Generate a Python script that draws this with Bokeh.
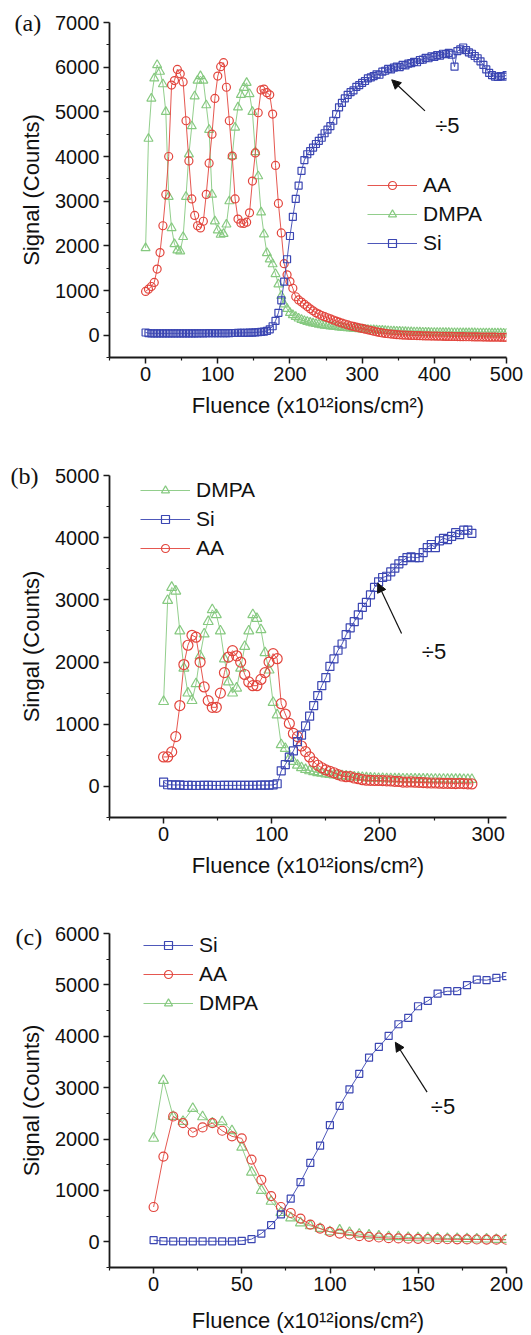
from bokeh.plotting import figure
from bokeh.layouts import column
from bokeh.models import FixedTicker, Label, Arrow, NormalHead, Legend, LegendItem, Title
from bokeh.embed import file_html
from bokeh.resources import INLINE

RED = "#e2453d"
GREEN = "#86c980"
BLUE = "#3b46b2"
FONT = "Liberation Sans"
XLABEL = "Fluence (x10\u00b9\u00b2ions/cm\u00b2)"

# ---------------- panel (a) data ----------------
x_a = [0, 4, 8, 12, 16, 20, 24, 28, 32, 36, 40, 44, 48, 52, 56, 60, 64, 68, 72, 76,
       80, 84, 88, 92, 96, 100, 104, 108, 112, 116, 120, 124, 128, 132, 136, 140, 144, 148, 152, 156,
       160, 164, 168, 172, 176, 180, 184, 188, 192, 196, 200, 204, 208, 212, 216, 220, 224, 228, 232, 236,
       240, 244, 248, 252, 256, 260, 264, 268, 272, 276, 280, 284, 288, 292, 296, 300, 304, 308, 312, 316,
       320, 324, 328, 332, 336, 340, 344, 348, 352, 356, 360, 364, 368, 372, 376, 380, 384, 388, 392, 396,
       400, 404, 408, 412, 416, 420, 424, 428, 432, 436, 440, 444, 448, 452, 456, 460, 464, 468, 472, 476,
       480, 484, 488, 492, 496, 500]
aa_a = [980, 1030, 1090, 1180, 1480, 1850, 2450, 3150, 4000, 5600,
        5700, 5950, 5850, 5670, 4800, 3900, 3050, 2680, 2450, 2400,
        2550, 3150, 3850, 4500, 5300, 5800, 6010, 6100, 5550, 4800,
        4010, 3050, 2600, 2510, 2500, 2530, 2740, 3450, 4080, 4980,
        5490, 5510, 5430, 5380, 4950, 3800, 2950, 2290, 1600, 1350,
        1200, 1050, 860, 790, 740, 690, 640, 590, 545, 500,
        470, 440, 415, 390, 365, 340, 315, 290, 270, 250,
        230, 210, 195, 180, 165, 150, 135, 120, 105, 90,
        75, 62, 50, 40, 32, 25, 18, 12, 8, 3,
        0, -3, -6, -8, -10, -12, -14, -16, -18, -20,
        -21, -23, -24, -25, -27, -28, -29, -30, -32, -33,
        -34, -35, -36, -38, -39, -40, -41, -42, -43, -44,
        -45, -46, -47, -48, -49, -50]
dmpa_a = [1950, 4400, 5300, 5750, 6050, 5900, 5620, 5000, 3100, 2400,
          2040, 1900, 1880, 2200, 3100, 4050, 4680, 5350, 5700, 5800,
          5700, 5150, 4600, 3150, 2550, 2350, 2250, 2270, 2480, 3000,
          4010, 4650, 5100, 5380, 5540, 5650, 5400, 5000, 4100, 3560,
          2750, 2260, 1840, 1700, 1590, 1370, 1140, 880, 690, 590,
          500, 450, 410, 375, 345, 320, 300, 282, 266, 252,
          240, 228, 218, 208, 200, 192, 185, 177, 170, 163,
          157, 151, 146, 141, 136, 131, 127, 122, 118, 114,
          110, 106, 102, 98, 94, 90, 87, 84, 81, 78,
          75, 73, 70, 68, 66, 64, 62, 60, 58, 56,
          55, 54, 54, 53, 52, 52, 51, 50, 50, 49,
          48, 48, 47, 47, 46, 45, 45, 44, 44, 43,
          42, 42, 41, 41, 40, 40]
si_a = [60, 45, 40, 42, 40, 41, 40, 39, 40, 41,
        40, 40, 41, 42, 41, 40, 41, 42, 42, 43,
        42, 43, 44, 44, 45, 44, 45, 46, 46, 47,
        48, 48, 50, 51, 52, 54, 56, 58, 62, 66,
        72, 80, 95, 130, 200, 320, 500, 780, 1200, 1700,
        2220, 2650, 3050, 3350, 3680, 3920, 4050, 4120, 4200, 4280,
        4350, 4420, 4520, 4600, 4680, 4800, 4950, 5100, 5200, 5300,
        5380, 5440, 5480, 5560, 5600, 5650, 5690, 5750, 5770, 5800,
        5840, 5830, 5900, 5920, 5960, 5950, 5990, 6010, 6000, 6050,
        6040, 6080, 6090, 6120, 6110, 6160, 6170, 6210, 6200, 6240,
        6230, 6270, 6260, 6300, 6290, 6320, 6280, 6010, 6360, 6400,
        6440, 6380, 6330, 6300, 6250, 6200, 6130, 6050, 5950, 5870,
        5820, 5790, 5780, 5800, 5790, 5820]

# ---------------- panel (b) data ----------------
x_b = [0, 3.75, 7.5, 11.25, 15, 18.75, 22.5, 26.25, 30, 33.75, 37.5, 41.25, 45, 48.75, 52.5, 56.25,
       60, 63.75, 67.5, 71.25, 75, 78.75, 82.5, 86.25, 90, 93.75, 97.5, 101.25, 105, 108.75, 112.5,
       116.25, 120, 123.75, 127.5, 131.25, 135, 138.75, 142.5, 146.25, 150, 153.75, 157.5, 161.25,
       165, 168.75, 172.5, 176.25, 180, 183.75, 187.5, 191.25, 195, 198.75, 202.5, 206.25, 210,
       213.75, 217.5, 221.25, 225, 228.75, 232.5, 236.25, 240, 243.75, 247.5, 251.25, 255, 258.75,
       262.5, 266.25, 270, 273.75, 277.5, 281.25, 285]
si_b = [70, 27, 25, 22, 25, 15, 16, 17, 15, 16,
        16, 17, 16, 15, 16, 17, 16, 16, 17, 18,
        18, 17, 18, 19, 20, 21, 22, 24,
        43, 250, 350, 470, 570, 720, 825, 975, 1130, 1300,
        1460, 1620, 1750, 1930, 2050, 2190, 2290, 2440, 2550, 2650,
        2760, 2880, 2960, 3080, 3200, 3290, 3360, 3380, 3450, 3510,
        3580, 3630, 3680, 3690, 3680, 3680, 3760, 3840, 3890, 3840,
        3950, 3990, 3970, 4020, 4080, 4050, 4120, 4120, 4070]
dmpa_b = [1364, 2990, 3200, 3140, 2500, 1900, 1500, 1380, 1650, 2100,
          2450, 2650, 2840, 2760, 2500, 2050, 1680, 1500, 1580, 1900,
          2250, 2500, 2760, 2700, 2520, 2150, 1870, 1350, 1150, 670,
          610, 450, 400, 340, 300, 270, 250, 235, 220, 210,
          200, 190, 182, 175, 170, 165, 160, 152, 147, 142,
          137, 133, 130, 128, 126, 124, 122, 121, 120, 119,
          118, 118, 117, 117, 116, 116, 115, 115, 114, 114,
          113, 113, 112, 112, 111, 111, 110]
aa_b = [474, 474, 555, 800, 1300, 1960, 2270, 2430, 2400, 2000,
        1600, 1380, 1272, 1272, 1500, 1830, 2080, 2183, 2100, 2000,
        1800, 1680, 1620, 1620, 1720, 1830, 2000, 2135, 2054, 1330,
        1164, 1013, 852, 800, 650, 560, 474, 394, 340, 300,
        265, 243, 220, 189, 167, 156, 156, 135, 124, 108,
        100, 98, 95, 95, 93, 90, 88, 82, 80, 70,
        70, 72, 68, 65, 62, 58, 55, 55, 52, 50,
        50, 48, 45, 50, 45, 42, 40]

# ---------------- panel (c) data ----------------
x_c = [0, 5.55, 11.1, 16.65, 22.2, 27.75, 33.3, 38.85, 44.4, 49.95, 55.5, 61.05, 66.6, 72.15,
       77.7, 83.25, 88.8, 94.35, 99.9, 105.45, 111, 116.55, 122.1, 127.65, 133.2, 138.75, 144.3,
       149.85, 155.4, 160.95, 166.5, 172.05, 177.6, 183.15, 188.7, 194.25, 199.8]
si_c = [32, 13, 10, 10, 10, 10, 10, 10, 10, 20,
        52, 161, 323, 535, 839, 1161, 1535, 1871, 2271, 2645,
        2968, 3270, 3584, 3792, 4006, 4234, 4357, 4584, 4688, 4831,
        4877, 4877, 4994, 5104, 5091, 5136, 5169]
aa_c = [677, 1658, 2439, 2310, 2129, 2226, 2310, 2161, 2052, 2013,
        1600, 1206, 890, 677, 561, 452, 335, 258, 194, 161,
        142, 110, 97, 84, 71, 65, 60, 58, 55, 52,
        50, 48, 46, 45, 44, 42, 40]
dmpa_c = [2013, 3140, 2439, 2342, 2594, 2432, 2310, 2335, 2161, 1839,
          1355, 1000, 787, 568, 465, 368, 310, 258, 194, 226,
          181, 148, 129, 110, 97, 97, 84, 77, 77, 71,
          65, 65, 58, 52, 52, 45, 45]

for xs, ys in [(x_a, aa_a), (x_a, dmpa_a), (x_a, si_a), (x_b, si_b), (x_b, dmpa_b),
               (x_b, aa_b), (x_c, si_c), (x_c, aa_c), (x_c, dmpa_c)]:
    assert len(xs) == len(ys), (len(xs), len(ys))

W = 525


def make_panel(height, b_left, b_right, b_top, b_bottom, xr, yr, xt, xm, yt, ym, ylabel,
               series, legend_order, legend_loc, arrow, div_pos, tag, tag_pos, xlab_standoff):
    p = figure(width=W, height=height, x_range=xr, y_range=yr,
               output_backend="svg", toolbar_location=None,
               min_border_left=b_left, min_border_right=b_right,
               min_border_top=b_top, min_border_bottom=b_bottom,
               background_fill_color="white", border_fill_color="white",
               outline_line_color=None)
    p.grid.visible = False
    p.xaxis.ticker = FixedTicker(ticks=xt, minor_ticks=xm)
    p.yaxis.ticker = FixedTicker(ticks=yt, minor_ticks=ym)
    p.xaxis.axis_label = XLABEL
    p.yaxis.axis_label = ylabel
    for ax in p.axis:
        ax.axis_line_color = "#1a1a1a"
        ax.axis_line_width = 1.8
        ax.major_tick_line_color = "#1a1a1a"
        ax.major_tick_line_width = 1.5
        ax.minor_tick_line_color = "#1a1a1a"
        ax.minor_tick_line_width = 1.2
        ax.major_tick_out = 6
        ax.major_tick_in = 0
        ax.minor_tick_out = 3
        ax.minor_tick_in = 0
        ax.major_label_text_font = FONT
        ax.major_label_text_font_size = "20px"
        ax.major_label_text_color = "#111111"
        ax.axis_label_text_font = FONT
        ax.axis_label_text_font_size = "22px"
        ax.axis_label_text_font_style = "normal"
        ax.axis_label_text_color = "#111111"
    p.xaxis.major_label_standoff = 3
    p.xaxis.axis_label_standoff = xlab_standoff
    p.yaxis.major_label_standoff = 4
    p.yaxis.axis_label_standoff = 8

    rends = {}
    for name, xs, ys, color, marker, size in series:
        lr = p.line(xs, ys, line_color=color, line_width=1, line_alpha=0.9)
        sr = p.scatter(xs, ys, marker=marker, size=size, line_color=color,
                       line_width=1.2, fill_alpha=0)
        rends[name] = [lr, sr]

    items = [LegendItem(label=n, renderers=rends[n]) for n in legend_order]
    leg = Legend(items=items, location=legend_loc, glyph_width=50, glyph_height=20,
                 label_height=20, label_text_font=FONT, label_text_font_size="21px",
                 label_text_color="#111111", label_standoff=6, spacing=5, padding=0,
                 margin=0, border_line_alpha=0, background_fill_alpha=0)
    p.add_layout(leg)

    (x0, y0, x1, y1) = arrow
    p.add_layout(Arrow(end=NormalHead(size=9, fill_color="#111111", line_color="#111111",
                                      line_width=1),
                       x_start=x0, y_start=y0, x_end=x1, y_end=y1,
                       line_color="#111111", line_width=1.2))
    p.add_layout(Label(x=div_pos[0], y=div_pos[1], text="\u00f75", text_font=FONT,
                       text_font_size="22px", text_color="#111111",
                       text_align="center", text_baseline="middle"))
    p.title = Title(text=tag, align="left", offset=tag_pos[0], standoff=tag_pos[1],
                    text_font="Liberation Serif", text_font_size="24px",
                    text_font_style="normal", text_color="#111111")
    return p


pa = make_panel(427, 105, 12, 22, 70, (-50, 500), (-500, 7000),
                [0, 100, 200, 300, 400, 500], [-50, 50, 150, 250, 350, 450],
                list(range(0, 7001, 1000)), [-500, 500, 1500, 2500, 3500, 4500, 5500, 6500],
                "Signal (Counts)",
                [("DMPA", x_a, dmpa_a, GREEN, "triangle", 9),
                 ("AA", x_a, aa_a, RED, "circle", 8),
                 ("Si", x_a, si_a, BLUE, "square", 7)],
                ["AA", "DMPA", "Si"], (258, 102),
                (387, 5022, 341, 5717), (418, 4686), "(a)", (-95, -26), 9)

pb = make_panel(460, 109, 4, 48, 70, (-50, 317), (-500, 5000),
                [0, 100, 200, 300], [-50, 50, 150, 250],
                list(range(0, 5001, 1000)), [-500, 500, 1500, 2500, 3500, 4500],
                "Singal (Counts)",
                [("DMPA", x_b, dmpa_b, GREEN, "triangle", 10),
                 ("AA", x_b, aa_b, RED, "circle", 10),
                 ("Si", x_b, si_b, BLUE, "square", 8)],
                ["DMPA", "Si", "AA"], (31, 257),
                (220, 2460, 198, 3268), (250, 2170), "(b)", (-99, -27), 9)

pc = make_panel(448, 104, 19, 46, 67, (-25, 200), (-500, 6000),
                [0, 50, 100, 150, 200], [-25, 25, 75, 125, 175],
                list(range(0, 6001, 1000)), [-500, 500, 1500, 2500, 3500, 4500, 5500],
                "Signal (Counts)",
                [("DMPA", x_c, dmpa_c, GREEN, "triangle", 10),
                 ("AA", x_c, aa_c, RED, "circle", 9),
                 ("Si", x_c, si_c, BLUE, "square", 7)],
                ["Si", "AA", "DMPA"], (34, 252),
                (155, 2913, 137, 3883), (164, 2640), "(c)", (-94, -33), 14)

layout = column(pa, pb, pc, spacing=0)
open("out.html", "w").write(file_html(layout, INLINE))
